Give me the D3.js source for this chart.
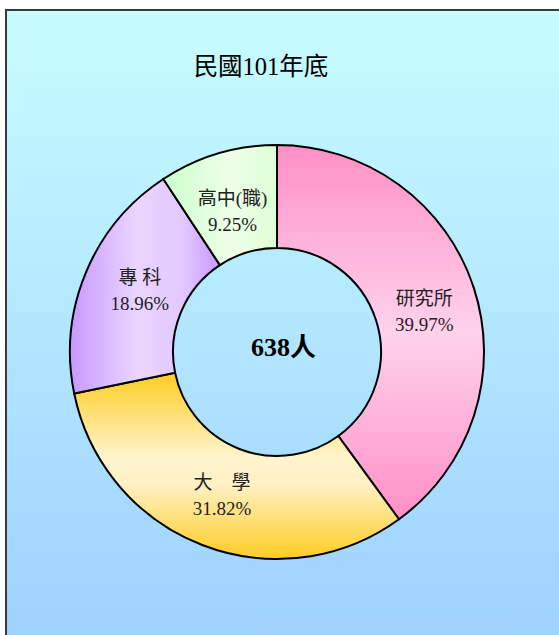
<!DOCTYPE html>
<html>
<head>
<meta charset="utf-8">
<script src="https://cdn.jsdelivr.net/npm/d3@7"></script>
<style>
  html, body { margin: 0; padding: 0; background: #ffffff; }
</style>
</head>
<body>
<div id="canvas"></div>
<script>
const categories = ['研究所', '大　學', '專 科', '高中(職)'],
    percents = [39.97, 31.82, 18.96, 9.25],
    title = '民國101年底',
    totalLabel = '638人';

const w = 559,
    h = 635,
    cx = 277,
    cy = 352,
    rOuter = 207,
    rInner = 104,
    serif = '"Liberation Serif", "Times New Roman", "Noto Sans CJK TC", serif',
    svg = d3.select('#canvas').append('svg')
        .attr('width', w)
        .attr('height', h);

const defs = svg.append('defs');

function gradient(id, vertical, stops) {
    const g = defs.append('linearGradient')
        .attr('id', id)
        .attr('x1', 0).attr('y1', 0)
        .attr('x2', vertical ? 0 : 1)
        .attr('y2', vertical ? 1 : 0);
    stops.forEach(s => g.append('stop')
        .attr('offset', s[0])
        .attr('stop-color', s[1]));
}

gradient('bg', true, [[0, '#c8fdff'], [1, '#99ccff']]);
gradient('g0', true, [[0, '#ff8fc6'], [0.5, '#ffd2ec'], [1, '#ff8fc6']]);
gradient('g1', true, [[0, '#ffcc22'], [0.45, '#fff4cc'], [0.6, '#fff0c4'], [1, '#ffcc22']]);
gradient('g2', false, [[0, '#c898ff'], [0.45, '#ead6ff'], [0.75, '#e2c8ff'], [1, '#c898ff']]);
gradient('g3', false, [[0, '#ccffcc'], [0.6, '#eeffe8'], [1, '#ddffd4']]);

// frame
svg.append('rect')
    .attr('x', 6)
    .attr('y', 10)
    .attr('width', 600)
    .attr('height', 700)
    .style('fill', 'url(#bg)')
    .style('stroke', '#3a3a3a')
    .style('stroke-width', 2);

svg.append('text')
    .attr('x', 261)
    .attr('y', 75)
    .attr('text-anchor', 'middle')
    .attr('font-family', serif)
    .attr('font-size', '24.5px')
    .attr('fill', '#000')
    .text(title);

const pie = d3.pie().sort(null).value(d => d)(percents),
    arc = d3.arc().innerRadius(rInner).outerRadius(rOuter),
    labelArc = d3.arc().innerRadius(155).outerRadius(155);

const g = svg.append('g')
    .attr('transform', 'translate(' + cx + ',' + cy + ')');

g.selectAll('path.slice')
    .data(pie)
    .join('path')
    .attr('class', 'slice')
    .attr('d', arc)
    .style('fill', (d, i) => 'url(#g' + i + ')')
    .style('stroke', '#000')
    .style('stroke-width', 2);

// nudges off the slice centroid, to sit the labels where the original has them
const labelShift = [[0, 9], [1, 0], [6, -1], [0, 10]];

const labels = g.selectAll('text.lbl')
    .data(pie)
    .join('text')
    .attr('class', 'lbl')
    .attr('text-anchor', 'middle')
    .attr('font-family', serif)
    .attr('font-size', '19px')
    .attr('fill', '#222')
    .attr('transform', (d, i) => {
        const c = labelArc.centroid(d);
        return 'translate(' + (c[0] + labelShift[i][0]) + ',' + (c[1] + labelShift[i][1]) + ')';
    });

labels.append('tspan')
    .attr('x', 0)
    .attr('y', -8)
    .text((d, i) => categories[i]);

labels.append('tspan')
    .attr('x', 0)
    .attr('y', 18)
    .text(d => d.value.toFixed(2) + '%');

g.append('text')
    .attr('x', 6.5)
    .attr('y', 4)
    .attr('text-anchor', 'middle')
    .attr('font-family', serif)
    .attr('font-size', '26px')
    .attr('font-weight', 'bold')
    .attr('fill', '#000')
    .text(totalLabel);
</script>
</body>
</html>
